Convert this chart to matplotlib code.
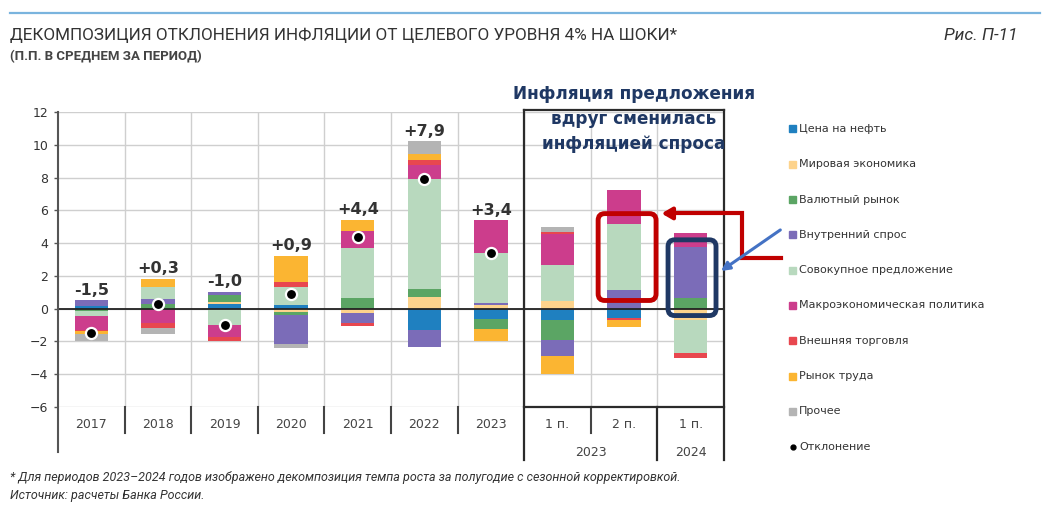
import numpy as np
import matplotlib
matplotlib.use("Agg")
import matplotlib.pyplot as plt
from matplotlib.patches import Rectangle, FancyBboxPatch
from matplotlib.lines import Line2D

# periods (last three are half-years)
cats = ["2017", "2018", "2019", "2020", "2021", "2022", "2023", "1 п.", "2 п.", "1 п."]
groups = [("2023", 7, 8), ("2024", 9, 9)]

# shock contributions, p.p.
oil    = [0.14, 0.00, 0.28, 0.20, 0.00, -1.28, -0.65, -0.70, -0.55, 0.00]
world  = [0.00, 0.00, 0.10, -0.20, -0.25, 0.70, 0.20, 0.47, 0.00, -0.70]
fx     = [-0.15, 0.30, 0.45, -0.20, 0.65, 0.47, -0.60, -1.22, 0.00, 0.67]
demand = [0.36, 0.30, 0.20, -1.73, -0.60, -1.06, 0.17, -0.98, 1.16, 3.10]
supply = [-0.30, 0.73, -1.00, 1.12, 3.05, 6.75, 3.04, 2.17, 4.02, -2.03]
macro  = [-0.85, -0.90, -0.70, 0.00, 1.02, 0.87, 1.98, 1.90, 2.04, 0.85]
trade  = [-0.08, -0.28, -0.30, 0.30, -0.20, 0.29, 0.00, 0.14, -0.17, -0.31]
labor  = [-0.15, 0.50, 0.00, 1.62, 0.72, 0.36, -0.72, -1.10, -0.40, 0.00]
other  = [-0.45, -0.34, 0.00, -0.25, 0.00, 0.77, 0.00, 0.30, 0.00, 0.00]
dev    = [-1.5, 0.3, -1.0, 0.9, 4.4, 7.9, 3.4, np.nan, np.nan, np.nan]

series = [
    ("Цена на нефть", oil, "#1f80c0"),
    ("Мировая экономика", world, "#fdd38c"),
    ("Валютный рынок", fx, "#5ba564"),
    ("Внутренний спрос", demand, "#7b6cb8"),
    ("Совокупное предложение", supply, "#b8d9be"),
    ("Макроэкономическая политика", macro, "#cc3d8c"),
    ("Внешняя торговля", trade, "#e8474f"),
    ("Рынок труда", labor, "#fbb532"),
    ("Прочее", other, "#b4b4b4"),
]

narrow = ["Roboto", "DejaVu Sans"]
W, H = 1051, 511
fig = plt.figure(figsize=(W / 100, H / 100), dpi=100)
ax = fig.add_axes([58 / W, 1 - 407 / H, 666 / W, 295 / H])

x = np.arange(len(cats))
pos = np.zeros(len(cats)); neg = np.zeros(len(cats))
for name, vals, col in series:
    v = np.array(vals)
    ax.bar(x, v, 0.5, bottom=np.where(v >= 0, pos, neg), color=col, zorder=3)
    pos += np.clip(v, 0, None); neg += np.clip(v, None, 0)

ax.plot(x, dev, "o", color="black", mec="white", mew=1.6, ms=8, zorder=6)
for i, d in enumerate(dev):
    if not np.isnan(d):
        ax.annotate(f"{d:+.1f}".replace(".", ","), (x[i], pos[i]), xytext=(0, 2),
                    textcoords="offset points", ha="center", va="bottom",
                    fontsize=11.5, fontweight="bold", color="#333333")

ax.set_xlim(-0.5, len(cats) - 0.5)
ax.set_ylim(-6, 12)
ax.set_yticks(range(-6, 13, 2))
ax.set_xticks([])
ax.grid(axis="y", color="#cfcfcf", lw=1, zorder=0)
ax.axhline(0, color="#222222", lw=1.3, zorder=4)
for s in ax.spines.values():
    s.set_visible(False)
ax.tick_params(axis="y", length=3, width=1, color="#555555", pad=4, labelsize=9, labelcolor="#333333")

tr = ax.get_xaxis_transform()
ax.plot([-0.5, -0.5], [1, -0.153], color="#555555", lw=1.5, transform=tr, clip_on=False, zorder=5)
for b in np.arange(0.5, len(cats) - 1, 1):
    ax.axvline(b, color="#cfcfcf", lw=1, zorder=0)
    if b in (6.5, 8.5):
        continue
    ax.plot([b, b], [0, -0.088], color="#444444", lw=1.5, transform=tr, clip_on=False)
# half-year frame
dark = "#2b2b2b"
ax.plot([6.5, 6.5], [1.007, -0.18], color=dark, lw=1.6, transform=tr, clip_on=False, zorder=5)
ax.plot([9.5, 9.5], [1.007, -0.18], color=dark, lw=1.6, transform=tr, clip_on=False, zorder=5)
ax.plot([6.5, 9.5], [1.007, 1.007], color=dark, lw=1.6, transform=tr, clip_on=False, zorder=5)
ax.plot([6.5, 9.5], [0, 0], color=dark, lw=1.6, transform=tr, clip_on=False, zorder=5)
ax.plot([8.5, 8.5], [0, -0.18], color=dark, lw=1.6, transform=tr, clip_on=False, zorder=5)

for i, c in enumerate(cats):
    ax.text(i, -0.058, c, transform=tr, ha="center", va="center", fontsize=9, color="#444444")
for g, a, b in groups:
    ax.text((a + b) / 2, -0.153, g, transform=tr, ha="center", va="center", fontsize=9, color="#444444")

# highlight boxes and arrows
asp = (666 / len(cats)) / (295 / 18)
ax.add_patch(FancyBboxPatch((7.61, 0.5), 0.87, 5.3, boxstyle="round,pad=0,rounding_size=0.1",
                            mutation_aspect=asp, fill=False, ec="#c00000", lw=3.5, zorder=7))
ax.add_patch(FancyBboxPatch((8.66, -0.42), 0.72, 4.62, boxstyle="round,pad=0,rounding_size=0.1",
                            mutation_aspect=asp, fill=False, ec="#1f3864", lw=3.5, zorder=7))
ax.plot([10.35, 9.77, 9.77, 8.75], [3.07, 3.07, 5.81, 5.81], color="#c00000", lw=3,
        clip_on=False, zorder=7, solid_joinstyle="miter")
ax.annotate("", xy=(8.52, 5.81), xytext=(8.8, 5.81),
            arrowprops=dict(arrowstyle="-|>,head_length=0.6,head_width=0.35", color="#c00000", lw=3),
            annotation_clip=False, zorder=7)
ax.annotate("", xy=(9.42, 2.2), xytext=(10.38, 4.9),
            arrowprops=dict(arrowstyle="-|>,head_length=0.5,head_width=0.25", color="#4472c4", lw=2.2),
            annotation_clip=False, zorder=7)

fig.text(634 / W, 1 - 119 / H, "Инфляция предложения\nвдруг сменилась\nинфляцией спроса",
         ha="center", va="center", fontsize=12.2, fontweight="bold", color="#1f3864", linespacing=1.5)

# legend
rows = [(n, c) for n, _, c in series]
for k, (n, c) in enumerate(rows):
    yc = 129 + 35.3 * k
    fig.add_artist(Rectangle((789 / W, 1 - (yc + 3.5) / H), 7 / W, 7 / H, transform=fig.transFigure, color=c))
    fig.text(799 / W, 1 - yc / H, n, va="center", fontsize=8, color="#333333")
yc = 129 + 35.3 * len(rows)
fig.add_artist(Line2D([792.5 / W], [1 - yc / H], marker="o", color="black", ms=3.5, transform=fig.transFigure))
fig.text(799 / W, 1 - yc / H, "Отклонение", va="center", fontsize=8, color="#333333")

# titles and notes
fig.add_artist(Line2D([10 / W, 1040 / W], [1 - 13 / H] * 2, color="#7ab4de", lw=1.6, transform=fig.transFigure))
fig.text(10 / W, 1 - 35 / H, "ДЕКОМПОЗИЦИЯ ОТКЛОНЕНИЯ ИНФЛЯЦИИ ОТ ЦЕЛЕВОГО УРОВНЯ 4% НА ШОКИ*",
         family=narrow, fontsize=12.3, color="#333333", va="center")
fig.text(10 / W, 1 - 57 / H, "(П.П. В СРЕДНЕМ ЗА ПЕРИОД)", family=narrow, fontsize=9.5,
         fontweight="bold", color="#444444", va="center")
fig.text(1018 / W, 1 - 36 / H, "Рис. П-11", family=narrow, fontsize=12.5, style="italic",
         color="#333333", va="center", ha="right")
fig.text(10 / W, 1 - 478 / H,
         "* Для периодов 2023–2024 годов изображено декомпозиция темпа роста за полугодие с сезонной корректировкой.",
         family=narrow, fontsize=9, style="italic", color="#333333", va="center")
fig.text(10 / W, 1 - 495 / H, "Источник: расчеты Банка России.", family=narrow, fontsize=9,
         style="italic", color="#333333", va="center")

fig.savefig("out.png", dpi=100)
